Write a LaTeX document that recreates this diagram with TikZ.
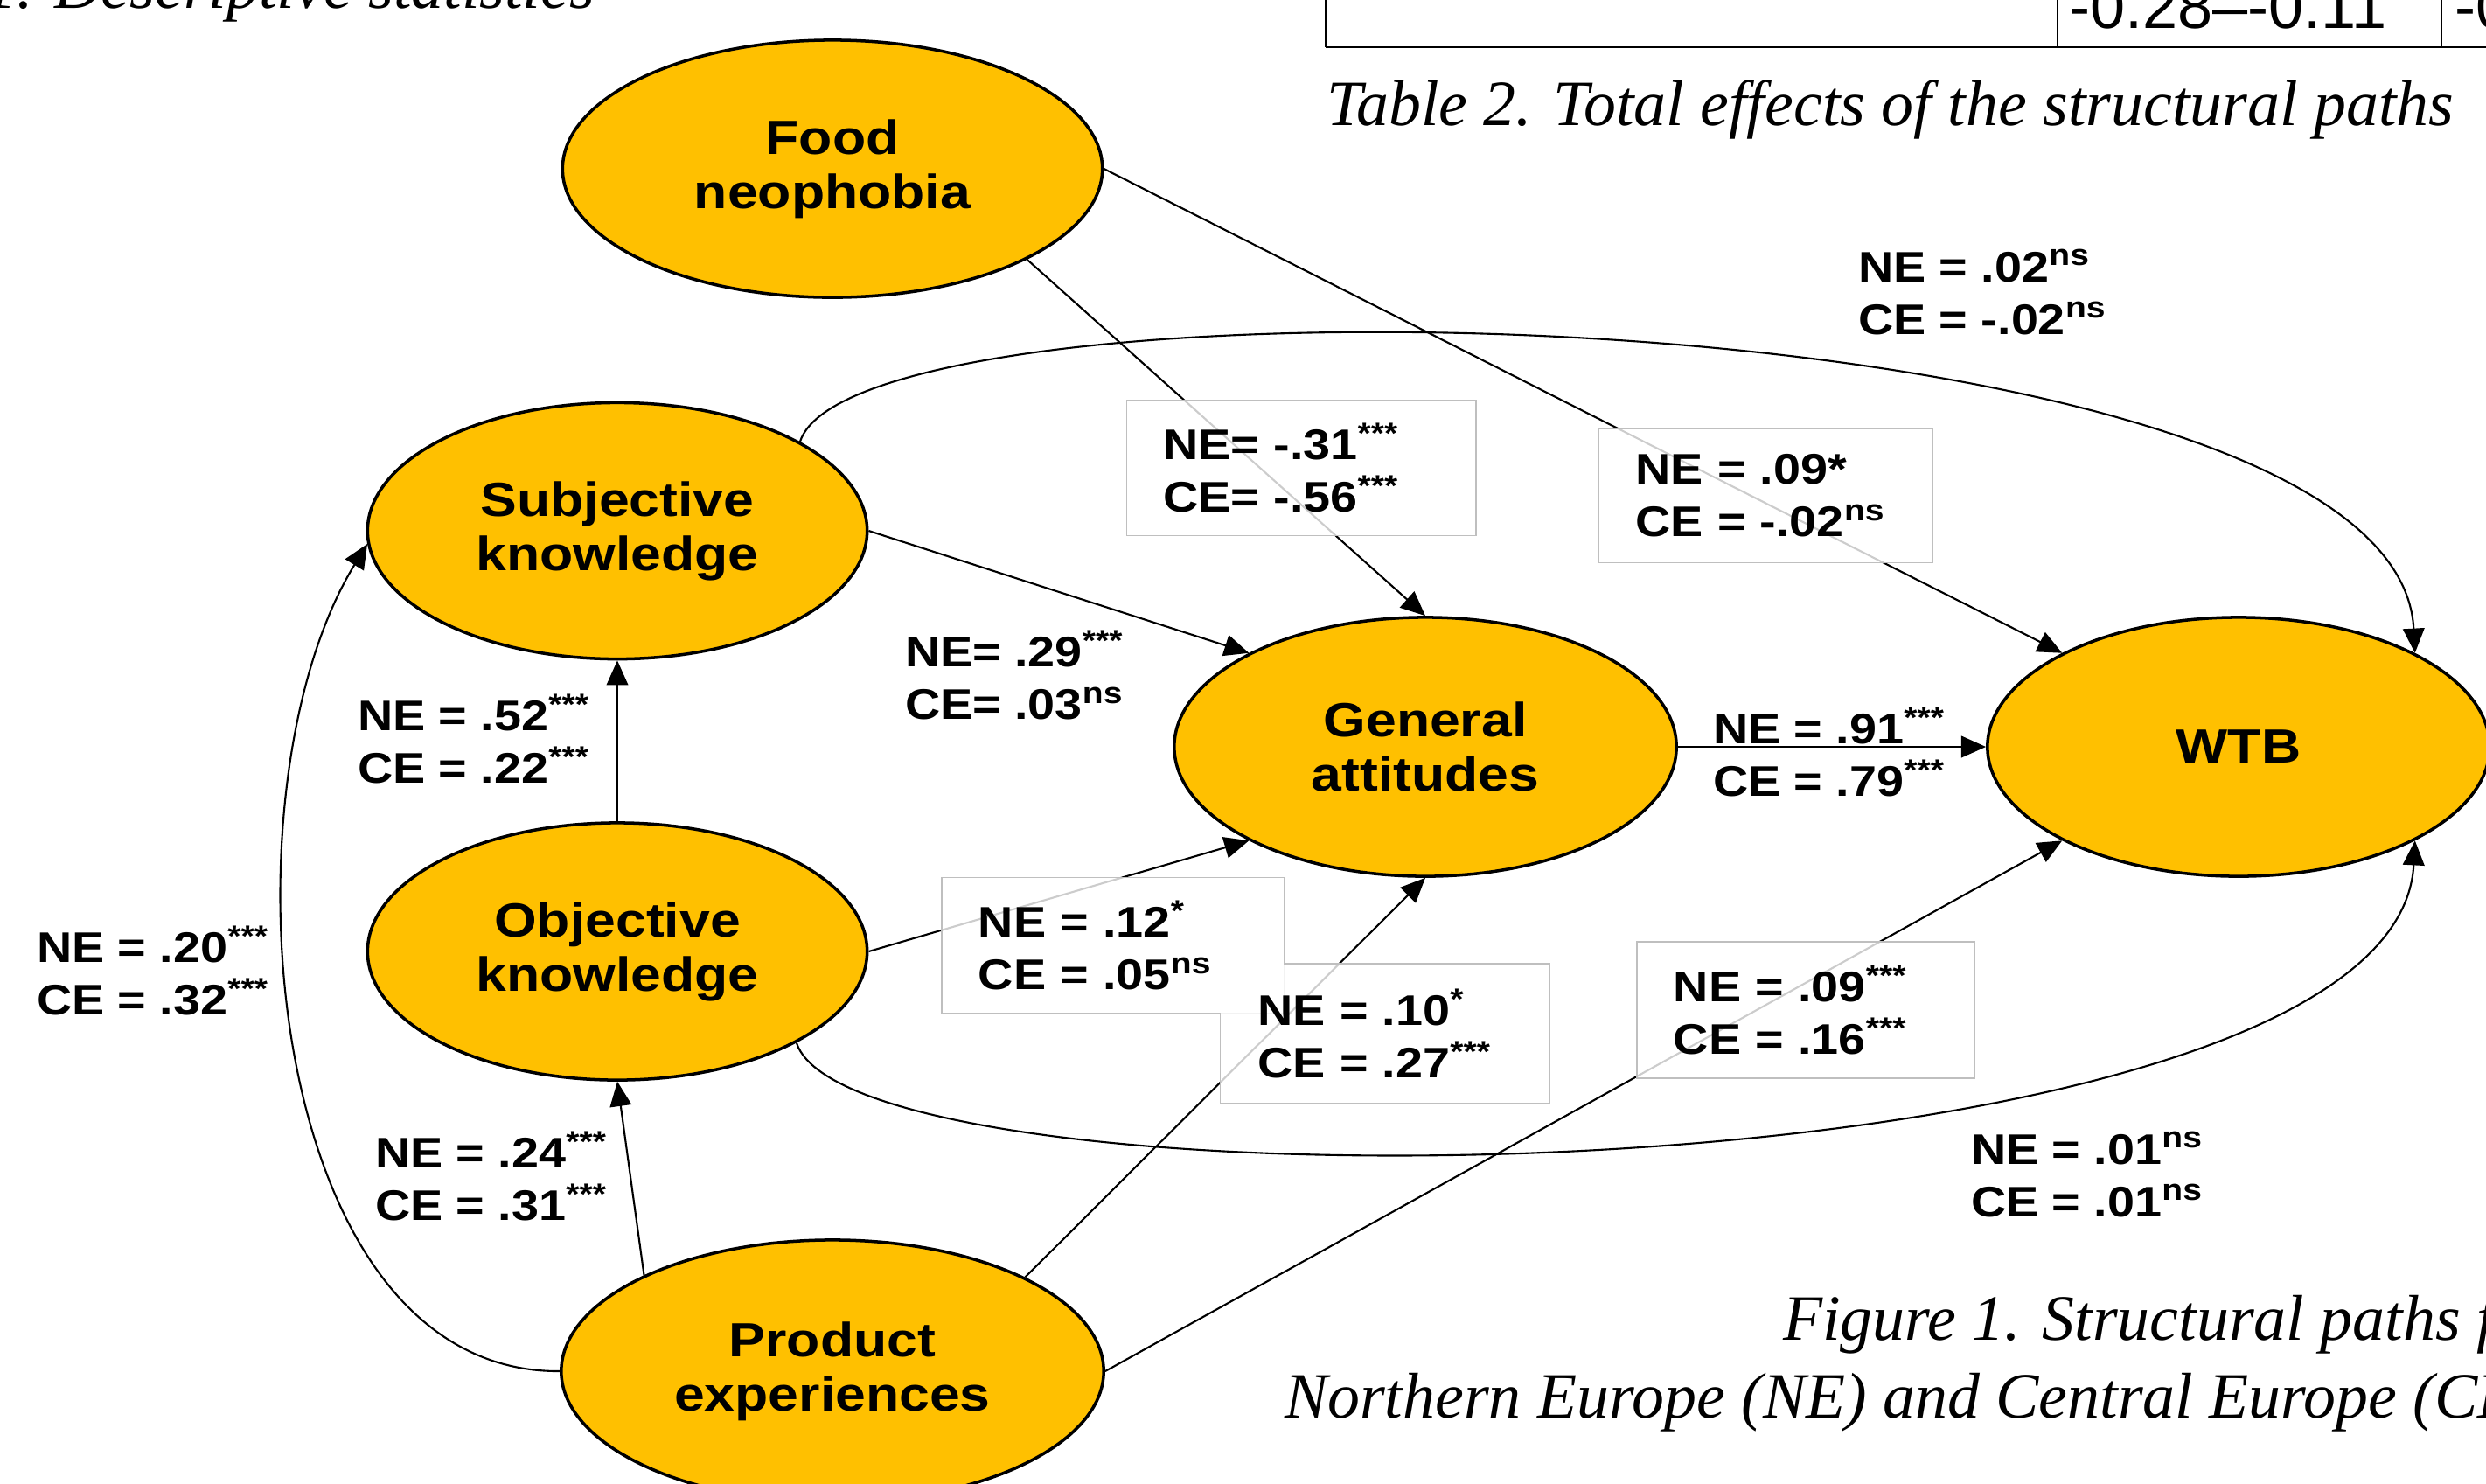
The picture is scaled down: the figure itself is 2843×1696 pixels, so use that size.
\documentclass[tikz,border=0pt]{standalone}
\usepackage{fontspec}
\setmainfont{Liberation Serif}
\newfontfamily\diagfont{Liberation Sans}[FakeStretch=1.14]
\newfontfamily\tabfont{Liberation Sans}
\usetikzlibrary{arrows.meta, shapes.geometric}
\definecolor{gold}{HTML}{FFC000}
\newcommand{\sig}[1]{\textsuperscript{#1}}

\begin{document}
\begin{tikzpicture}[x=0.01cm, y=-0.01cm, >={Triangle[length=8pt,width=7pt]}, line width=0.6pt,
    factor/.style={ellipse, draw, line width=1pt, fill=gold, inner sep=0pt, align=center,
        font=\diagfont\bfseries\fontsize{15.6}{17.6}\selectfont},
    coef/.style={inner sep=0pt, align=left, font=\diagfont\bfseries\fontsize{13.9}{17.1}\selectfont},
    coefbox/.style={coef, draw=black!25, line width=0.5pt, fill=white, fill opacity=0.8, text opacity=1,
        inner xsep=0.42cm, inner ysep=0pt, minimum height=1.55cm},
    captext/.style={inner sep=0pt, font=\itshape\fontsize{21}{24}\selectfont},
    celltext/.style={inner sep=0pt, font=\tabfont\fontsize{20.5}{24}\selectfont}]
    \useasboundingbox (0,0) rectangle (2843,1696);

    \node[captext, anchor=base east] (t1cap) at (681,9) {Table 1. Descriptive statistics};
    \draw (1516,0) -- (1516,54) (2353,0) -- (2353,54) (2792,0) -- (2792,54);
    \draw[line width=0.8pt] (1516,54) -- (2843,54);
    \node[celltext, anchor=base west] (range) at (2365,32) {-0.28\textendash-0.11};
    \node[celltext, anchor=base west] (rangenext) at (2806,32) {-0};
    \node[captext, anchor=base west] (t2cap) at (1516,143) {Table 2. Total effects of the structural paths};

    \node[factor, minimum width=6.17cm, minimum height=2.94cm] (food) at (952,193) {Food\\neophobia};
    \node[factor, minimum width=5.71cm, minimum height=2.93cm] (subj) at (706,607) {Subjective\\knowledge};
    \node[factor, minimum width=5.71cm, minimum height=2.94cm] (obj) at (706,1088) {Objective\\knowledge};
    \node[factor, minimum width=6.2cm, minimum height=3cm] (prod) at (952,1568) {Product\\experiences};
    \node[factor, minimum width=5.74cm, minimum height=2.96cm] (ga) at (1630,854) {General\\attitudes};
    \node[factor, minimum width=5.74cm, minimum height=2.96cm] (wtb) at (2560,854) {WTB};

    \draw[->] (food.-25) -- (ga.north);
    \draw[->] (food.east) -- (wtb.152);
    \draw[->] (subj.east) -- (ga.152);
    \draw[->] (subj.26) .. controls +(66,-205) and +(-22,-417) .. (wtb.28);
    \draw[->] (obj.north) -- (subj.south);
    \draw[->] (obj.east) -- (ga.208);
    \draw[->] (obj.-27) .. controls +(66,205) and +(-22,417) .. (wtb.-28);
    \draw[->] (prod.153) -- (obj.south);
    \draw[->] (prod.west) .. controls +(-342,2) and +(-171,278) .. (subj.183);
    \draw[->] (prod.26) -- (ga.south);
    \draw[->] (prod.east) -- (wtb.208);
    \draw[->] (ga.east) -- (wtb.west);

    \node[coefbox, text width=3.15cm] (c-fn-ga) at (1488,535) {NE= -.31\sig{***}\\CE= -.56\sig{***}};
    \node[coefbox, text width=2.97cm, minimum height=1.53cm] (c-fn-wtb) at (2019,567) {NE = .09*\\CE = -.02\sig{ns}};
    \node[coefbox, text width=3.08cm] (c-ok-ga) at (1273,1081) {NE = .12\sig{*}\\CE = .05\sig{ns}};
    \node[coefbox, draw=none, text width=2.91cm, minimum height=1.58cm] (c-pe-ga) at (1584,1182) {NE = .10\sig{*}\\CE = .27\sig{***}};
    \draw[black!25, line width=0.5pt] (c-pe-ga.west |- c-ok-ga.south) -- (c-pe-ga.south west) -- (c-pe-ga.south east)
        -- (c-pe-ga.north east) -- (c-ok-ga.east |- c-pe-ga.north);
    \node[coefbox, text width=3.02cm, minimum height=1.56cm] (c-pe-wtb) at (2065,1155) {NE = .09\sig{***}\\CE = .16\sig{***}};

    \node[coef, anchor=west] (c-sk-wtb) at (2124,334) {NE = .02\sig{ns}\\CE = -.02\sig{ns}};
    \node[coef, anchor=west] (c-sk-ga) at (1034,772) {NE= .29\sig{***}\\CE= .03\sig{ns}};
    \node[coef, anchor=west] (c-ok-sk) at (408,845) {NE = .52\sig{***}\\CE = .22\sig{***}};
    \node[coef, anchor=west] (c-ga-wtb) at (1958,860) {NE = .91\sig{***}\\CE = .79\sig{***}};
    \node[coef, anchor=west] (c-pe-sk) at (41,1110) {NE = .20\sig{***}\\CE = .32\sig{***}};
    \node[coef, anchor=west] (c-pe-ok) at (428,1345) {NE = .24\sig{***}\\CE = .31\sig{***}};
    \node[coef, anchor=west] (c-ok-wtb) at (2253,1343) {NE = .01\sig{ns}\\CE = .01\sig{ns}};

    \node[captext, anchor=base west] (f1cap1) at (2038,1532) {Figure 1. Structural paths for};
    \node[captext, anchor=base west] (f1cap2) at (1468,1621) {Northern Europe (NE) and Central Europe (CE)};
\end{tikzpicture}
\end{document}
